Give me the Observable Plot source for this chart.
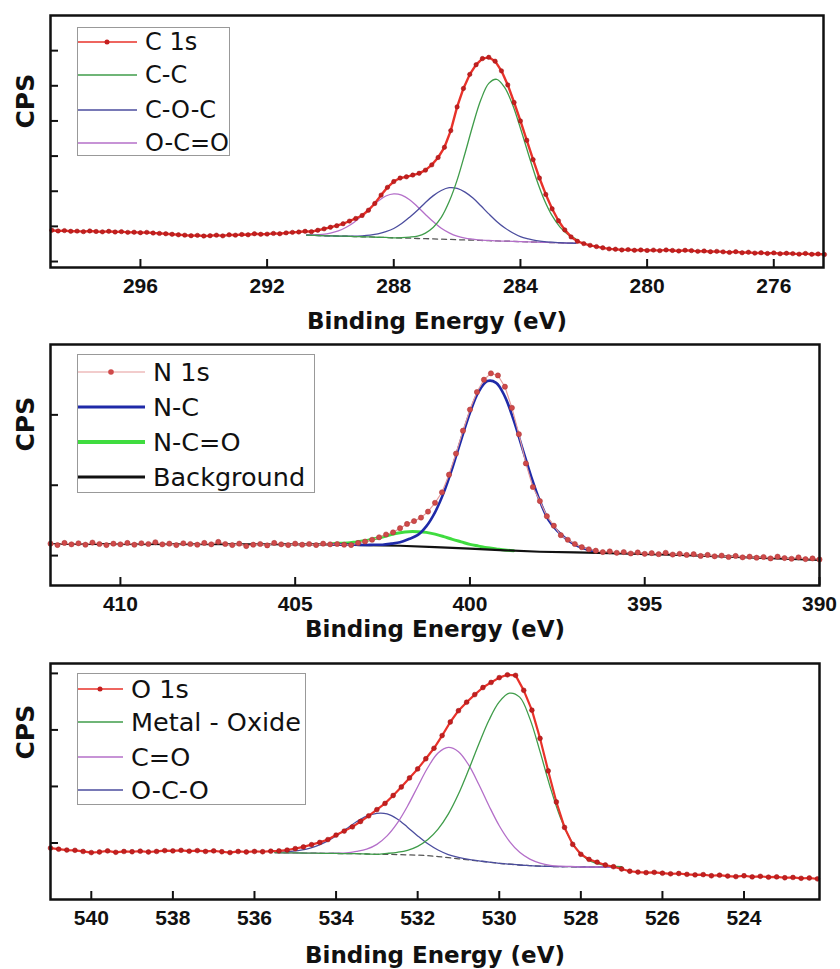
<!DOCTYPE html>
<html><head><meta charset="utf-8">
<script src="https://cdn.jsdelivr.net/npm/d3@7"></script>
<script src="https://cdn.jsdelivr.net/npm/@observablehq/plot@0.6"></script>
<style>
body{margin:0;background:#fff;}
#root{position:relative;width:840px;height:969px;overflow:hidden;background:#fff;}
.panel{position:absolute;left:0;}
.legend{position:absolute;}
</style></head><body><div id="root"></div>
<script>
// ---------- C 1s ----------
const c1sStart = 298.8, c1sStep = 0.2;
const c1sCPS = [
 3.78,3.74,3.76,3.72,3.73,3.70,3.74,3.71,3.69,3.72,
 3.68,3.70,3.66,3.67,3.64,3.66,3.62,3.60,3.58,3.55,
 3.52,3.50,3.47,3.49,3.45,3.47,3.50,3.46,3.52,3.50,
 3.54,3.52,3.58,3.55,3.56,3.60,3.58,3.63,3.66,3.68,
 3.72,3.70,3.78,3.86,3.95,4.04,4.15,4.30,4.45,4.62,
 4.92,5.30,5.78,6.22,6.55,6.75,6.82,6.92,7.02,7.20,
 7.50,7.92,8.50,9.45,10.80,11.85,12.65,13.20,13.55,13.62,
 13.40,12.85,12.05,11.05,10.00,8.90,7.80,6.75,5.82,5.00,
 4.32,3.80,3.40,3.15,3.02,2.92,2.85,2.78,2.72,2.70,
 2.66,2.68,2.64,2.66,2.63,2.65,2.62,2.66,2.63,2.60,
 2.64,2.62,2.58,2.60,2.56,2.58,2.55,2.52,2.56,2.50,
 2.53,2.48,2.50,2.46,2.49,2.44,2.47,2.45,2.42,2.46,
 2.41,2.43,2.40];
const cCompStart = 290.75, cCompStep = 0.25;
const cBackground = [3.50,3.49,3.47,3.46,3.45,3.44,3.42,3.41,3.40,3.38,3.37,3.35,3.34,3.33,3.31,3.30,3.29,3.27,3.26,3.24,3.23,3.22,3.20,3.19,3.17,3.16,3.15,3.13,3.12,3.10,3.09,3.08,3.06,3.05,3.04];
const cCC  = [3.50,3.49,3.47,3.46,3.45,3.44,3.42,3.41,3.40,3.38,3.37,3.35,3.36,3.39,3.45,3.62,3.95,4.51,5.41,6.63,8.16,9.77,11.20,12.14,12.37,11.91,10.93,9.58,8.12,6.71,5.52,4.61,3.96,3.54,3.29];
const cCOC = [3.50,3.49,3.47,3.46,3.45,3.45,3.44,3.46,3.50,3.57,3.70,3.88,4.16,4.52,4.92,5.36,5.75,6.04,6.20,6.16,5.95,5.61,5.17,4.71,4.28,3.92,3.64,3.42,3.29,3.19,3.13,3.10,3.07,3.05,3.04];
const cOCO = [3.51,3.52,3.55,3.62,3.74,3.95,4.24,4.62,5.04,5.43,5.73,5.85,5.78,5.52,5.12,4.68,4.26,3.89,3.63,3.44,3.33,3.27,3.22,3.20,3.17,3.16,3.15,3.13,3.12,3.10,3.09,3.08,3.06,3.05,3.04];
const cTicksX = [296, 292, 288, 284, 280, 276];
const cTicksY = [2, 4, 6, 8, 10, 12, 14];
const cLegend = ["C 1s", "C-C", "C-O-C", "O-C=O"];

// ---------- N 1s ----------
const n1sStart = 412.0, n1sStep = 0.2;
const n1sCPS = [
 2.34,2.30,2.36,2.32,2.35,2.31,2.37,2.33,2.30,2.34,
 2.32,2.36,2.31,2.35,2.33,2.38,2.32,2.34,2.30,2.35,
 2.33,2.31,2.36,2.32,2.39,2.33,2.30,2.34,2.27,2.31,
 2.33,2.29,2.36,2.32,2.30,2.34,2.31,2.33,2.30,2.34,
 2.32,2.33,2.31,2.30,2.36,2.40,2.45,2.52,2.60,2.66,
 2.78,2.90,2.98,3.08,3.25,3.50,3.80,4.30,4.90,5.55,
 6.15,6.65,7.00,7.18,7.12,6.80,6.20,5.45,4.62,3.95,
 3.55,3.12,2.85,2.58,2.45,2.33,2.24,2.18,2.14,2.10,
 2.12,2.08,2.10,2.06,2.09,2.05,2.07,2.04,2.08,2.03,
 2.05,2.02,2.04,1.99,2.02,1.98,2.00,1.96,1.99,1.95,
 1.97,1.94,1.96,1.92,1.97,1.93,1.91,1.95,1.90,1.92,
 1.89];
const nCompStart = 404, nCompStep = 0.25;
const nNC  = [2.32,2.32,2.31,2.31,2.30,2.31,2.31,2.34,2.38,2.47,2.58,2.83,3.23,3.79,4.50,5.30,6.06,6.66,6.96,6.91,6.52,5.85,5.05,4.25,3.55,3.01,2.70,2.48,2.31,2.21,2.14];
const nNCO = [2.33,2.35,2.36,2.39,2.42,2.48,2.53,2.60,2.65,2.68,2.68,2.66,2.61,2.54,2.46,2.39,2.32,2.27,2.22,2.19,2.16,2.14];
const nBackgroundE = [412, 404, 403, 402, 401, 400, 399, 398, 397, 396, 394, 392, 390];
const nBackgroundV = [2.33, 2.32, 2.30, 2.28, 2.24, 2.20, 2.15, 2.11, 2.09, 2.07, 2.02, 1.95, 1.88];
const nTicksX = [410, 405, 400, 395, 390];
const nTicksY = [2, 4, 6];
const nLegend = ["N 1s", "N-C", "N-C=O", "Background"];

// ---------- O 1s ----------
const o1sStart = 541.0, o1sStep = 0.2;
const o1sCPS = [
 3.82,3.78,3.75,3.74,3.70,3.66,3.68,3.72,3.67,3.70,
 3.69,3.71,3.68,3.70,3.73,3.72,3.74,3.71,3.73,3.70,
 3.72,3.69,3.66,3.70,3.68,3.70,3.69,3.71,3.72,3.75,
 3.80,3.86,3.94,4.02,4.12,4.28,4.42,4.57,4.76,4.96,
 5.18,5.40,5.68,5.98,6.30,6.62,6.98,7.35,7.80,8.28,
 8.68,8.98,9.25,9.50,9.68,9.85,9.95,9.93,9.40,8.70,
 7.70,6.55,5.45,4.55,3.95,3.60,3.42,3.32,3.22,3.16,
 3.08,3.00,2.97,2.95,2.96,2.93,2.91,2.92,2.89,2.87,
 2.88,2.84,2.86,2.83,2.81,2.84,2.80,2.82,2.79,2.80,
 2.77,2.78,2.75,2.76,2.73];
const oCompStart = 535.5, oCompStep = 0.25;
const oBackground = [3.66,3.65,3.65,3.64,3.64,3.63,3.63,3.62,3.62,3.61,3.60,3.60,3.59,3.58,3.57,3.55,3.52,3.48,3.44,3.40,3.36,3.32,3.28,3.25,3.22,3.20,3.18,3.17,3.16,3.16,3.15,3.15,3.15,3.15,3.15];
const oMetal = [3.66,3.65,3.65,3.64,3.64,3.63,3.63,3.62,3.62,3.61,3.60,3.63,3.67,3.74,3.88,4.12,4.49,5.02,5.73,6.59,7.50,8.35,8.99,9.30,9.16,8.40,7.23,5.97,4.89,4.11,3.61,3.35,3.23,3.18,3.16];
const oCO  = [3.66,3.65,3.65,3.64,3.64,3.63,3.64,3.65,3.70,3.78,3.95,4.25,4.70,5.30,5.99,6.67,7.18,7.38,7.23,6.76,6.07,5.31,4.61,4.06,3.67,3.43,3.29,3.21,3.18,3.17,3.15,3.15,3.15,3.15,3.15];
const oOCO = [3.67,3.68,3.72,3.77,3.88,4.04,4.25,4.50,4.75,4.95,5.05,5.03,4.85,4.56,4.25,3.97,3.75,3.59,3.49,3.42,3.37,3.32,3.28,3.25,3.22,3.20,3.18,3.17,3.16,3.16,3.15,3.15,3.15,3.15,3.15];
const oTicksX = [540, 538, 536, 534, 532, 530, 528, 526, 524];
const oTicksY = [4, 6, 8, 10];
const oLegend = ["O 1s", "Metal - Oxide", "C=O", "O-C-O"];

const xLabel = "Binding Energy (eV)";
const yLabel = "CPS";

// ---------- helpers ----------
const grid = (start, step, values) => values.map((v, i) => ({E: +(start - i * step).toFixed(3), v}));
const pairs = (es, vs) => es.map((E, i) => ({E, v: vs[i]}));

const RED = "#e8322a", REDDOT = "#c41f1f";
const GREEN = "#3f9c4a", SLATE = "#4b4d9e", VIOLET = "#b46fc9";

const root = document.getElementById("root");

function panel(cfg) {
  const plotW = 840 - 50 - cfg.mr;
  const plotH = cfg.height - cfg.mt - cfg.mb;
  const fig = Plot.plot({
    width: 840, height: cfg.height,
    marginTop: cfg.mt, marginLeft: 50, marginRight: cfg.mr, marginBottom: cfg.mb,
    x: {domain: cfg.xDomain},
    y: {domain: cfg.yDomain, axis: null},
    style: {fontFamily: "'Liberation Sans', Arial, sans-serif", fontSize: "21px", fontWeight: "bold", color: "#111", backgroundColor: "transparent", overflow: "visible"},
    marks: [
      ...cfg.marks,
      Plot.tickX(cfg.xTicks, {x: d => d, stroke: "#111", strokeWidth: 2, insetTop: plotH - 8}),
      Plot.tickY(cfg.yTicks, {y: d => d, stroke: "#111", strokeWidth: 2, insetRight: plotW - 8}),
      Plot.axisX({ticks: cfg.xTicks, tickSize: 0, tickPadding: 11, label: null, tickFormat: d => String(d)}),
      Plot.frame({stroke: "#111", strokeWidth: 2.5}),
      Plot.text([xLabel], {frameAnchor: "bottom", dy: cfg.xlabDy, text: d => d, lineAnchor: "bottom",
        fontFamily: "'DejaVu Sans', sans-serif", fontWeight: "bold", fontSize: 23, fill: "#111"}),
      Plot.text([yLabel], {frameAnchor: "left", dx: -25, dy: cfg.cpsDy, rotate: -90, text: d => d,
        fontFamily: "'DejaVu Sans', sans-serif", fontWeight: "bold", fontSize: 25, fill: "#111"})
    ]
  });
  const wrap = document.createElement("div");
  wrap.className = "panel";
  wrap.style.top = cfg.top + "px";
  wrap.appendChild(fig);
  root.appendChild(wrap);
}

function legend(cfg) {
  const ns = "http://www.w3.org/2000/svg";
  const svg = document.createElementNS(ns, "svg");
  svg.setAttribute("width", cfg.w); svg.setAttribute("height", cfg.h);
  svg.setAttribute("class", "legend");
  svg.style.left = cfg.left + "px"; svg.style.top = cfg.top + "px";
  const box = document.createElementNS(ns, "rect");
  box.setAttribute("x", 0.5); box.setAttribute("y", 0.5);
  box.setAttribute("width", cfg.w - 1); box.setAttribute("height", cfg.h - 1);
  box.setAttribute("fill", "#fff"); box.setAttribute("stroke", "#999"); box.setAttribute("stroke-width", 1);
  svg.appendChild(box);
  cfg.rows.forEach((r, i) => {
    const y = cfg.rowY[i];
    const ln = document.createElementNS(ns, "line");
    ln.setAttribute("x1", 1); ln.setAttribute("x2", cfg.lineLen);
    ln.setAttribute("y1", y); ln.setAttribute("y2", y);
    ln.setAttribute("stroke", r.color); ln.setAttribute("stroke-width", r.width);
    svg.appendChild(ln);
    if (r.dot) {
      const c = document.createElementNS(ns, "circle");
      c.setAttribute("cx", cfg.dotX); c.setAttribute("cy", y); c.setAttribute("r", r.dot.r);
      c.setAttribute("fill", r.dot.fill);
      svg.appendChild(c);
    }
    const t = document.createElementNS(ns, "text");
    t.setAttribute("x", cfg.textX); t.setAttribute("y", y);
    t.setAttribute("dominant-baseline", "central");
    t.setAttribute("font-family", "'DejaVu Sans', sans-serif");
    t.setAttribute("font-size", cfg.fontSize);
    t.setAttribute("fill", "#111");
    t.textContent = r.label;
    svg.appendChild(t);
  });
  root.appendChild(svg);
}

// ---------- Panel 1: C 1s ----------
const c1s = grid(c1sStart, c1sStep, c1sCPS);
panel({
  top: 0, height: 340, mt: 15, mb: 73, mr: 17,
  xDomain: [298.84, 274.43], yDomain: [1.66, 16],
  xTicks: cTicksX, yTicks: cTicksY, xlabDy: 61, cpsDy: -13,
  marks: [
    Plot.line(grid(cCompStart, cCompStep, cBackground), {x: "E", y: "v", stroke: "#555", strokeWidth: 1.3, strokeDasharray: "5,4"}),
    Plot.line(grid(cCompStart, cCompStep, cOCO), {x: "E", y: "v", stroke: VIOLET, strokeWidth: 1.3, curve: "catmull-rom"}),
    Plot.line(grid(cCompStart, cCompStep, cCOC), {x: "E", y: "v", stroke: SLATE, strokeWidth: 1.3, curve: "catmull-rom"}),
    Plot.line(grid(cCompStart, cCompStep, cCC), {x: "E", y: "v", stroke: GREEN, strokeWidth: 1.3, curve: "catmull-rom"}),
    Plot.line(c1s, {x: "E", y: "v", stroke: RED, strokeWidth: 2.4}),
    Plot.dot(c1s, {x: "E", y: "v", r: 2.2, fill: REDDOT, stroke: "#9a1010", strokeWidth: 0.5})
  ]
});

// ---------- Panel 2: N 1s ----------
const n1s = grid(n1sStart, n1sStep, n1sCPS);
panel({
  top: 330, height: 315, mt: 14, mb: 60, mr: 21,
  xDomain: [412, 390], yDomain: [1.15, 8],
  xTicks: nTicksX, yTicks: nTicksY, xlabDy: 51, cpsDy: -13.5,
  marks: [
    Plot.line(grid(nCompStart, nCompStep, nNCO), {x: "E", y: "v", stroke: "#3fdc3f", strokeWidth: 3, curve: "catmull-rom"}),
    Plot.line(pairs(nBackgroundE, nBackgroundV), {x: "E", y: "v", stroke: "#111", strokeWidth: 2.2}),
    Plot.line(grid(nCompStart, nCompStep, nNC), {x: "E", y: "v", stroke: "#1f2aa8", strokeWidth: 2.6, curve: "catmull-rom"}),
    Plot.line(n1s, {x: "E", y: "v", stroke: "#e59a9a", strokeWidth: 1.2}),
    Plot.dot(n1s, {x: "E", y: "v", r: 2.6, fill: "#cf4a4a", stroke: "#a83030", strokeWidth: 0.5})
  ]
});

// ---------- Panel 3: O 1s ----------
const o1s = grid(o1sStart, o1sStep, o1sCPS);
panel({
  top: 650, height: 319, mt: 13, mb: 70, mr: 21,
  xDomain: [541, 522.15], yDomain: [2, 10.35],
  xTicks: oTicksX, yTicks: oTicksY, xlabDy: 63, cpsDy: -22,
  marks: [
    Plot.line(grid(oCompStart, oCompStep, oBackground), {x: "E", y: "v", stroke: "#555", strokeWidth: 1.3, strokeDasharray: "5,4"}),
    Plot.line(grid(oCompStart, oCompStep, oOCO), {x: "E", y: "v", stroke: SLATE, strokeWidth: 1.3, curve: "catmull-rom"}),
    Plot.line(grid(oCompStart, oCompStep, oCO), {x: "E", y: "v", stroke: VIOLET, strokeWidth: 1.3, curve: "catmull-rom"}),
    Plot.line(grid(oCompStart, oCompStep, oMetal), {x: "E", y: "v", stroke: GREEN, strokeWidth: 1.3, curve: "catmull-rom"}),
    Plot.line(o1s, {x: "E", y: "v", stroke: RED, strokeWidth: 2.2}),
    Plot.dot(o1s, {x: "E", y: "v", r: 2.4, fill: REDDOT, stroke: "#9a1010", strokeWidth: 0.5})
  ]
});

// ---------- Legends ----------
legend({left: 77, top: 27, w: 153, h: 129, rowY: [15, 48, 83, 116], lineLen: 60, dotX: 30, textX: 68, fontSize: 24,
  rows: [
    {label: cLegend[0], color: RED, width: 1.6, dot: {r: 2.5, fill: REDDOT}},
    {label: cLegend[1], color: GREEN, width: 1.3},
    {label: cLegend[2], color: SLATE, width: 1.3},
    {label: cLegend[3], color: VIOLET, width: 1.3}
  ]});
legend({left: 77, top: 354, w: 238, h: 139, rowY: [18, 53, 88, 123], lineLen: 68, dotX: 34, textX: 76, fontSize: 25.5,
  rows: [
    {label: nLegend[0], color: "#e59a9a", width: 1.2, dot: {r: 2.8, fill: "#cf4a4a"}},
    {label: nLegend[1], color: "#1f2aa8", width: 3},
    {label: nLegend[2], color: "#3fdc3f", width: 4},
    {label: nLegend[3], color: "#111", width: 3}
  ]});
legend({left: 77, top: 673, w: 229, h: 132, rowY: [16, 49, 84, 117], lineLen: 46, dotX: 23, textX: 54, fontSize: 25.5,
  rows: [
    {label: oLegend[0], color: RED, width: 1.6, dot: {r: 2.5, fill: REDDOT}},
    {label: oLegend[1], color: GREEN, width: 1.3},
    {label: oLegend[2], color: VIOLET, width: 1.3},
    {label: oLegend[3], color: SLATE, width: 1.3}
  ]});
</script>
</body></html>
